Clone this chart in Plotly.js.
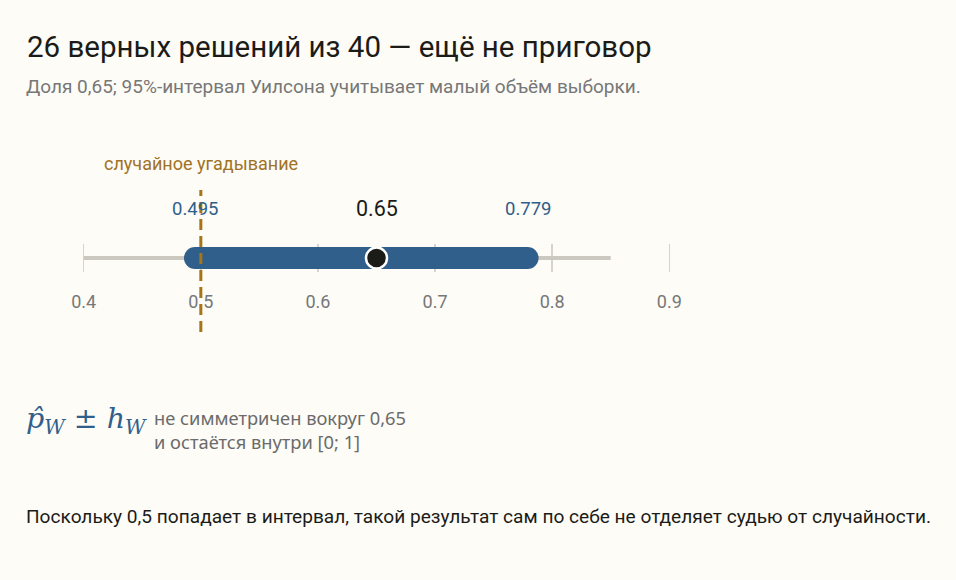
<!DOCTYPE html>
<html><head><meta charset="utf-8">
<script src="https://cdn.plot.ly/plotly-3.0.1.min.js"></script>
<style>html,body{margin:0;padding:0;background:#fdfcf7}</style>
</head><body>
<div id="chart" style="width:956px;height:580px"></div>
<script>
// ---- data ----
const estimate = [0.65];
const ciBounds = [0.495, 0.779];
const chanceLevel = [0.5];
const scaleSpan = [0.4, 0.85];
const tickValues = [0.4, 0.5, 0.6, 0.7, 0.8, 0.9];
const tickLabels = ['0.4', '0.5', '0.6', '0.7', '0.8', '0.9'];
const boundLabels = ['0.495', '0.779'];
const estimateLabel = ['0.65'];

// ---- geometry helpers ----
const L = 72, R = 275, T = 244, B = 308, WID = 956, HEI = 580;
const plotW = WID - L - R, plotH = HEI - T - B, bottomPx = HEI - B;
const px = x => (x - L) / plotW;
const py = y => (bottomPx - y) / plotH;

const mainFont = 'Roboto, "Noto Sans", sans-serif';
const blue = '#2f5f8a';

const traces = [
  {x: scaleSpan, y: [0, 0], mode: 'lines', line: {color: '#cbc8bf', width: 4}, hoverinfo: 'skip', cliponaxis: false},
  {x: ciBounds, y: [0, 0], mode: 'lines+markers', line: {color: blue, width: 22},
   marker: {size: 22, color: blue, line: {width: 0}}, hoverinfo: 'skip', cliponaxis: false},
  {x: estimate, y: [0], mode: 'markers',
   marker: {size: 21, color: '#1b1b17', line: {color: '#ffffff', width: 2.5}}, hoverinfo: 'skip', cliponaxis: false}
];

const ann = [
  {xref: 'paper', yref: 'paper', x: px(24), y: py(86), xanchor: 'left', yanchor: 'middle', showarrow: false,
   text: 'Доля 0,65; 95%-интервал Уилсона учитывает малый объём выборки.', font: {family: mainFont, size: 19, color: '#777'}},
  {xref: 'x', yref: 'paper', x: chanceLevel[0], y: py(163), xanchor: 'center', yanchor: 'middle', showarrow: false,
   text: 'случайное угадывание', font: {family: mainFont, size: 18, color: '#a07224'}},
  {xref: 'x', yref: 'paper', x: ciBounds[0], y: py(209), xanchor: 'center', yanchor: 'middle', showarrow: false,
   text: boundLabels[0], font: {family: mainFont, size: 18.5, color: blue}},
  {xref: 'x', yref: 'paper', x: ciBounds[1], y: py(209), xanchor: 'center', yanchor: 'middle', showarrow: false,
   text: boundLabels[1], font: {family: mainFont, size: 18.5, color: blue}},
  {xref: 'x', yref: 'paper', x: estimate[0], y: py(208), xanchor: 'center', yanchor: 'middle', showarrow: false,
   text: estimateLabel[0], font: {family: mainFont, size: 21.5, color: '#1b1b17'}},
  {xref: 'paper', yref: 'paper', x: px(24), y: py(420), xanchor: 'left', yanchor: 'middle', showarrow: false,
   text: '<i>p̂</i><sub><i>W</i></sub> ± <i>h</i><sub><i>W</i></sub>', font: {family: '"DejaVu Serif", serif', size: 28.5, color: blue}},
  {xref: 'paper', yref: 'paper', x: px(152), y: py(429), xanchor: 'left', yanchor: 'middle', align: 'left', showarrow: false,
   text: 'не симметричен вокруг 0,65<br>и остаётся внутри [0; 1]', font: {family: '"Noto Sans", sans-serif', size: 18.3, color: '#6b6b6b'}},
  {xref: 'paper', yref: 'paper', x: px(24), y: py(516), xanchor: 'left', yanchor: 'middle', showarrow: false,
   text: 'Поскольку 0,5 попадает в интервал, такой результат сам по себе не отделяет судью от случайности.',
   font: {family: '"Liberation Sans Narrow", ' + mainFont, size: 19.1, color: '#1b1b17'}}
];

const layout = {
  width: WID, height: HEI,
  margin: {l: L, r: R, t: T, b: B},
  paper_bgcolor: '#fdfcf7', plot_bgcolor: '#fdfcf7',
  showlegend: false,
  title: {text: '26 верных решений из 40 — ещё не приговор', xref: 'container', yref: 'container',
          x: 27 / WID, xanchor: 'left', y: 1 - 47 / HEI, yanchor: 'middle',
          font: {family: mainFont, size: 29.5, color: '#1b1b17'}},
  xaxis: {range: [0.39, 0.91], tickvals: tickValues, ticktext: tickLabels, showgrid: true,
          gridcolor: '#d6d4cc', gridwidth: 1.5, zeroline: false, showline: false, ticks: '',
          tickfont: {family: mainFont, size: 18, color: '#777'}, ticklabelstandoff: 17, fixedrange: true},
  yaxis: {range: [-1, 1], visible: false, fixedrange: true},
  shapes: [{type: 'line', xref: 'x', yref: 'paper', x0: chanceLevel[0], x1: chanceLevel[0], y0: py(332), y1: py(190),
            layer: 'above', line: {color: '#a87417', width: 3, dash: '11px,6px'}}],
  annotations: ann
};

Plotly.newPlot('chart', traces, layout, {displayModeBar: false, staticPlot: true});
</script>
</body></html>
